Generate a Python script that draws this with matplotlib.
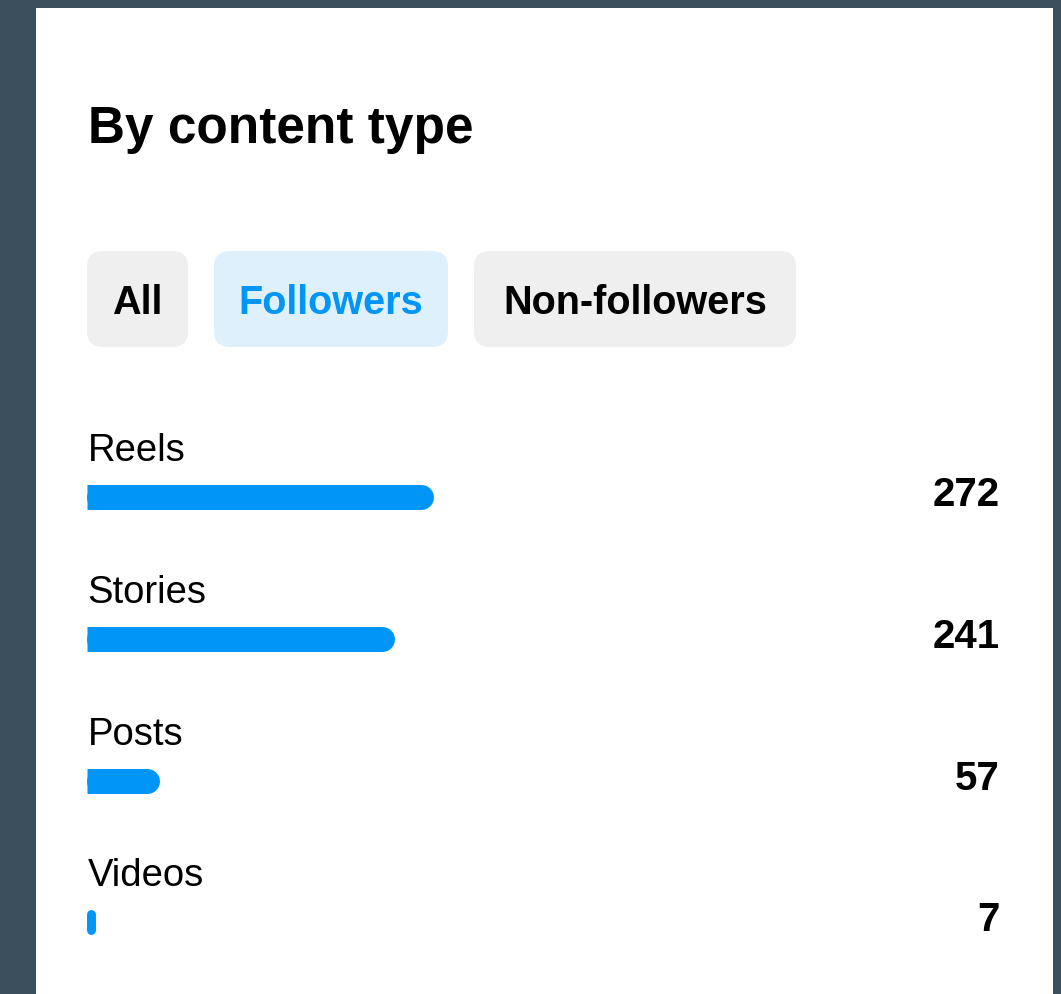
import matplotlib
matplotlib.use('Agg')
from matplotlib import pyplot as plt
from matplotlib.patches import FancyBboxPatch, Rectangle
from matplotlib.transforms import blended_transform_factory

plt.rcParams['font.family'] = ['Liberation Sans', 'DejaVu Sans']

# data
categories = ['Reels', 'Stories', 'Posts', 'Videos']
values = [272, 241, 57, 7]
tabs = ['All', 'Followers', 'Non-followers']
active_tab = 'Followers'
title = 'By content type'

BLUE = '#0095F6'
W, H = 1061, 994

fig = plt.figure(figsize=(W / 100, H / 100), dpi=100)
fig.patch.set_facecolor('#3B505C')

# background axes in pixel coordinates (layout only)
bg = fig.add_axes([0, 0, 1, 1])
bg.set_xlim(0, W)
bg.set_ylim(H, 0)
bg.axis('off')
bg.add_patch(Rectangle((36, 8), 1017, 1000, facecolor='white', edgecolor='none'))

bg.text(88, 143, title, fontsize=37, fontweight='bold', color='black', va='baseline', ha='left')

# tabs
tab_boxes = [(87, 101), (214, 234), (474, 322)]
for name, (x0, w) in zip(tabs, tab_boxes):
    active = name == active_tab
    bg.add_patch(FancyBboxPatch((x0, 251), w, 96, boxstyle='round,pad=0,rounding_size=16',
                                facecolor='#DFF0FD' if active else '#EFEFEF', edgecolor='none'))
    bg.text(x0 + w / 2, 314, name, fontsize=28.5, fontweight='bold', ha='center', va='baseline',
            color=BLUE if active else 'black')

# bar axes: x in values, y in rows
left_px, right_px = 86.7, 1000
top_px, row0_px, row_px = 400, 497, 141.8
px_x = 1.276  # pixels per unit
ax = fig.add_axes([left_px / W, 0, (right_px - left_px) / W, (H - top_px) / H])
ax.set_xlim(0, (right_px - left_px) / px_x)
ax.set_ylim((H - row0_px) / row_px, (top_px - row0_px) / row_px)
ax.axis('off')

bar_px = 25
trans = blended_transform_factory(ax.transAxes, ax.transData)
for i, (cat, v) in enumerate(zip(categories, values)):
    w_px = v * px_x
    if w_px >= bar_px:
        # round right end, square left end
        r = bar_px / 2 / px_x
        ax.plot([r, v - r], [i, i], color=BLUE, lw=bar_px * 0.72, solid_capstyle='round')
        ax.plot([0, v / 2], [i, i], color=BLUE, lw=bar_px * 0.72, solid_capstyle='butt')
    else:
        # narrow bar: vertical pill
        rr = (bar_px - w_px) / 2 / row_px
        ax.plot([v / 2, v / 2], [i - rr, i + rr], color=BLUE, lw=w_px * 0.72, solid_capstyle='round')
    ax.text(1 / px_x, i - 36 / row_px, cat, fontsize=27.5, color='black', ha='left', va='baseline')
    ax.text(1.0, i + 9 / row_px, str(v), transform=trans, fontsize=29, fontweight='bold',
            color='black', ha='right', va='baseline')

fig.savefig('out.png', dpi=100, facecolor=fig.get_facecolor())
